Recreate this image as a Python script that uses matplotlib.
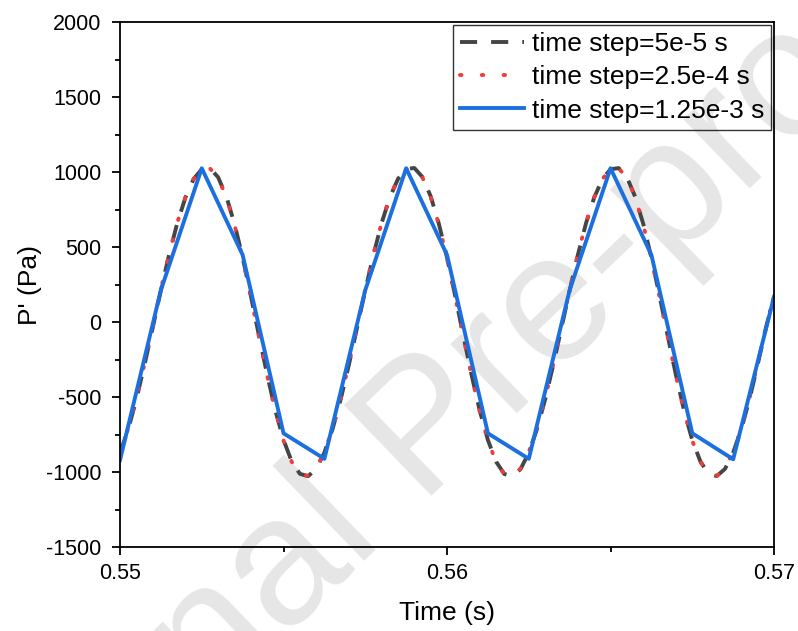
import numpy as np
import matplotlib.pyplot as plt
from matplotlib.ticker import MultipleLocator

plt.rcParams['font.family'] = ['Liberation Sans', 'DejaVu Sans']
plt.rcParams['axes.unicode_minus'] = False

# time axis of the finer curves (read every 2.5e-4 s) and of the coarse run
t_fine = [0.55 + 0.00025 * j for j in range(81)]
t_coarse = [0.55 + 0.00125 * k for k in range(17)]

# P', dt = 5e-5 s (dark dashed)
p_5e5 = [-872, -715, -515, -284, -38, 212, 448, 659, 830, 953, 1019,
         1026, 965, 838, 655, 430, 175, -92, -352, -590, -786, -930, -1012, -1028, -980,
         -870, -713, -514, -283, -37, 212, 448, 660, 831, 954, 1020,
         1027, 966, 838, 655, 429, 174, -93, -353, -591, -787, -931, -1013, -1028, -980,
         -871, -714, -515, -284, -38, 211, 447, 659, 830, 953, 1019,
         1026, 965, 837, 654, 428, 173, -94, -354, -592, -788, -931, -1012, -1027, -979,
         -870, -713, -514, -283, -40, 170]

# dt = 2.5e-4 s (red dotted)
p_25e4 = [-868, -710, -510, -278, -32, 218, 452, 662, 832, 954, 1018,
          1024, 962, 834, 650, 424, 168, -98, -358, -595, -790, -932, -1012, -1026, -976,
          -867, -709, -509, -277, -31, 218, 452, 663, 833, 955, 1019,
          1025, 963, 834, 650, 423, 167, -99, -359, -596, -791, -933, -1013, -1026, -976,
          -867, -710, -510, -278, -32, 217, 451, 662, 832, 954, 1018,
          1024, 962, 833, 649, 422, 166, -100, -360, -597, -792, -933, -1012, -1025, -975,
          -866, -709, -509, -277, -34, 175]

# dt = 1.25e-3 s (blue solid)
p_125e3 = [-920, 213, 1025, 447, -742, -912, 213, 1025, 447, -742,
           -912, 213, 1025, 447, -742, -915, 169]

labels = ['time step=5e-5 s', 'time step=2.5e-4 s', 'time step=1.25e-3 s']

fig = plt.figure(figsize=(7.98, 6.31), dpi=100)
ax = fig.add_axes([0.1504, 0.1331, 0.8196, 0.8320])
ax.patch.set_alpha(0)

# watermark (starts off-canvas, only "..al Pre-pro.." is visible)
fig.text(-0.056, -0.515, 'Journal Pre-proof', fontsize=131, color='#e6e6e6',
         rotation=44, ha='left', va='baseline', rotation_mode='anchor', zorder=-1)

ax.plot(t_fine, p_5e5, color='#454545', lw=2.8, dashes=(4.4, 3.6), label=labels[0])
ax.plot(t_fine, p_25e4, color='#f23b3b', lw=2.8, dashes=(0.4, 5.2),
        dash_capstyle='round', label=labels[1])
ax.plot(t_coarse, p_125e3, color='#1c6fdf', lw=2.8, label=labels[2])

ax.set_xlim(0.55, 0.57)
ax.set_ylim(-1500, 2000)
ax.xaxis.set_major_locator(MultipleLocator(0.01))
ax.xaxis.set_minor_locator(MultipleLocator(0.005))
ax.yaxis.set_major_locator(MultipleLocator(500))
ax.yaxis.set_minor_locator(MultipleLocator(250))
ax.xaxis.set_major_formatter(plt.FuncFormatter(lambda v, p: f'{v:.2f}'))
ax.tick_params(which='both', direction='out', top=False, right=False, labelsize=15.5)
ax.tick_params(which='major', length=5.5, width=1.3)
ax.tick_params(axis='x', which='major', pad=6)
ax.tick_params(axis='y', which='major', pad=8)
ax.tick_params(which='minor', length=3.5, width=1.3)
for s in ax.spines.values():
    s.set_linewidth(1.3)

ax.set_xlabel('Time (s)', fontsize=19, labelpad=12)
ax.set_ylabel("P' (Pa)", fontsize=19, labelpad=3)

leg = ax.legend(loc='upper right', fontsize=19, frameon=True, fancybox=False,
                edgecolor='black', facecolor='none', handlelength=2.4,
                borderaxespad=0.1, labelspacing=0.35, handletextpad=0.3,
                borderpad=0.28)
leg.get_frame().set_linewidth(1.0)

fig.savefig('out.png', dpi=100)
